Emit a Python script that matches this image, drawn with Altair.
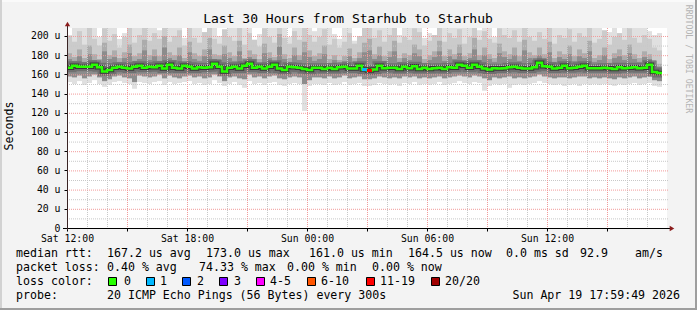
import altair as alt
import pandas as pd

# ---------------- data ----------------
# time steps of 15 minutes starting Sat 12:00 (hour 0); values in microseconds
median = [
    167, 169, 168, 168, 168, 170, 167.5, 163, 164.5, 167,
    168, 167, 166, 168, 169, 167, 168, 167.5, 169, 166,
    170, 167, 166, 169, 168, 166, 167.5, 167, 167.5, 171,
    168, 163, 167, 168, 166, 169, 171, 167, 168, 166,
    168, 170, 166, 164.5, 168, 167.5, 167, 165.5, 164.5, 167,
    167, 165.5, 167, 165.5, 167.5, 168, 166, 166, 169, 165,
    164, 165, 169, 166.5, 167, 167, 165.5, 168, 166.5, 168.5,
    165.5, 167, 165.5, 166.5, 167, 165.5, 167.5, 167, 170, 169,
    167, 170, 168, 166, 165, 166.5, 166, 166.5, 167.5, 168,
    167, 166, 166, 167.5, 172, 168.5, 168, 166, 167, 169,
    166.5, 167, 168, 169, 166.5, 166.5, 166.5, 167, 166.5, 165.5,
    167.5, 166.5, 167, 167.5, 166.5, 167, 170, 162.5, 161.5,
]
loss = [0] * 59 + [1, 15] + [0] * 58

smoke_max = [
    201, 212, 212, 212, 212, 212, 199, 212, 212, 212,
    197, 203, 212, 212, 212, 212, 212, 212, 206, 212,
    212, 212, 212, 198, 212, 212, 212, 204, 212, 212,
    200, 204, 212, 212, 212, 212, 212, 196, 202, 212,
    212, 212, 212, 212, 199, 212, 212, 212, 212, 205,
    212, 212, 212, 202, 197, 212, 212, 195, 199, 212,
    212, 212, 212, 212, 212, 212, 201, 212, 212, 212,
    212, 198, 203, 200, 212, 212, 212, 212, 212, 212,
    212, 212, 206, 212, 212, 199, 212, 212, 212, 212,
    212, 212, 212, 212, 212, 212, 202, 212, 212, 212,
    212, 212, 212, 212, 212, 212, 212, 197, 204, 212,
    200, 212, 212, 212, 212, 212, 205, 201, 203,
]
smoke_hi = [
    200, 194, 205, 191, 212, 197, 190, 208, 195, 202,
    188, 199, 210, 193, 201, 212, 195, 203, 197, 212,
    194, 200, 206, 190, 209, 198, 193, 204, 212, 197,
    192, 207, 199, 195, 212, 191, 203, 196, 189, 208,
    199, 193, 212, 198, 192, 205, 196, 210, 201, 194,
    199, 207, 191, 197, 188, 194, 203, 192, 200, 209,
    212, 198, 206, 194, 201, 212, 193, 199, 196, 208,
    204, 190, 195, 201, 210, 194, 203, 198, 207, 192,
    199, 212, 196, 205, 197, 193, 208, 201, 198, 206,
    194, 212, 199, 195, 204, 197, 209, 192, 201, 198,
    207, 194, 203, 199, 210, 193, 197, 206, 191, 199,
    203, 196, 208, 198, 193, 201, 197, 188, 185,
]
smoke_dk = [
    182, 178, 186, 177, 190, 181, 176, 193, 180, 185,
    177, 183, 191, 179, 182, 196, 180, 186, 179, 200,
    183, 180, 188, 177, 194, 182, 179, 186, 198, 181,
    180, 190, 183, 179, 195, 177, 185, 181, 176, 192,
    183, 178, 202, 181, 177, 188, 180, 194, 185, 179,
    182, 190, 176, 180, 175, 179, 187, 177, 183, 193,
    197, 181, 189, 179, 184, 195, 177, 182, 180, 191,
    186, 176, 180, 184, 195, 179, 186, 181, 191, 179,
    182, 198, 180, 188, 181, 177, 192, 184, 181, 188,
    179, 196, 183, 180, 188, 181, 194, 177, 184, 181,
    190, 179, 186, 182, 195, 177, 180, 188, 176, 182,
    186, 180, 191, 181, 177, 184, 181, 174, 171,
]
smoke_core = [
    176, 174, 179, 173, 181, 175, 172, 184, 176, 178,
    173, 177, 182, 174, 176, 185, 175, 179, 174, 188,
    177, 175, 180, 173, 183, 176, 174, 179, 186, 176,
    175, 181, 177, 174, 184, 173, 178, 176, 172, 182,
    177, 174, 189, 176, 173, 180, 175, 183, 178, 174,
    176, 181, 172, 175, 171, 174, 179, 173, 177, 183,
    185, 176, 180, 174, 178, 184, 173, 177, 175, 182,
    179, 172, 175, 178, 184, 174, 179, 176, 182, 174,
    177, 186, 175, 180, 176, 173, 182, 178, 176, 180,
    174, 185, 177, 175, 180, 176, 183, 173, 178, 176,
    181, 174, 179, 177, 184, 173, 175, 180, 172, 177,
    179, 175, 182, 176, 173, 178, 176, 170, 168,
]
smoke_lo = [
    158, 157, 159, 156, 158, 160, 157, 153, 155, 158,
    159, 157, 156, 152, 159, 158, 157, 158, 160, 156,
    159, 157, 156, 158, 159, 157, 158, 156, 157, 160,
    158, 153, 157, 158, 156, 155, 160, 157, 158, 156,
    158, 159, 156, 155, 157, 158, 157, 150, 154, 157,
    157, 156, 158, 156, 157, 159, 156, 157, 158, 155,
    155, 156, 158, 157, 156, 157, 156, 158, 157, 158,
    156, 157, 156, 157, 158, 156, 157, 158, 159, 158,
    157, 159, 158, 156, 154, 157, 156, 157, 158, 156,
    157, 156, 157, 158, 160, 158, 157, 156, 157, 157,
    156, 157, 158, 158, 156, 157, 156, 157, 156, 155,
    157, 156, 157, 158, 156, 157, 158, 154, 153,
]
smoke_min = [
    152, 150, 153, 149, 151, 154, 150, 147, 149, 152,
    153, 151, 150, 145, 152, 151, 150, 152, 153, 149,
    152, 150, 151, 152, 153, 150, 151, 149, 150, 154,
    151, 148, 150, 152, 149, 146, 153, 150, 151, 149,
    151, 152, 149, 148, 150, 151, 150, 122, 148, 150,
    150, 149, 151, 149, 150, 152, 149, 150, 151, 148,
    148, 149, 151, 150, 149, 150, 148, 151, 150, 152,
    149, 150, 149, 150, 152, 149, 150, 151, 153, 151,
    150, 152, 151, 143, 148, 150, 149, 150, 146, 149,
    150, 149, 150, 151, 153, 151, 150, 149, 150, 148,
    149, 150, 148, 150, 149, 150, 149, 150, 149, 148,
    150, 149, 150, 151, 149, 150, 151, 148, 147,
]

x_label_hours = [0, 6, 12, 18, 24]
x_labels = ["Sat 12:00", "Sat 18:00", "Sun 00:00", "Sun 06:00", "Sun 12:00"]
y_label_vals = [0, 20, 40, 60, 80, 100, 120, 140, 160, 180, 200]
y_labels = ["0", "20 u", "40 u", "60 u", "80 u", "100 u", "120 u", "140 u",
            "160 u", "180 u", "200 u"]

title = "Last 30 Hours from Starhub to Starhub"
legend_rows = [
    ["median rtt:", "167.2 us avg", "173.0 us max", "161.0 us min",
     "164.5 us now", "0.0 ms sd", "92.9", "am/s"],
    ["packet loss:", "0.40 % avg", "74.33 % max", "0.00 % min", "0.00 % now"],
    ["loss color:"],
    ["probe:", "20 ICMP Echo Pings (56 Bytes) every 300s"],
]
loss_names = ["0", "1", "2", "3", "4-5", "6-10", "11-19", "20/20"]
loss_upper = [0, 1, 2, 3, 5, 10, 19, 20]
loss_hex = ["#26ff00", "#00b8ff", "#0059ff", "#7e00ff", "#ff00ff",
            "#ff5500", "#ff0000", "#a00000"]
stamp = "Sun Apr 19 17:59:49 2026"

# ---------------- layout (pixels, relative to plot origin) ----------------
MONO = "DejaVu Sans Mono"
W, H = 600, 200
PL, PT = 67, 28
legend_x = [
    [16, 107, 206, 309, 408, 506, 580, 635],
    [16, 107, 199, 287, 372],
    [16],
    [16, 107],
]
legend_y = [254, 268, 282, 296]
swatch_x = [108, 146, 182, 219, 256, 307, 366, 431]
swatch_lbl_x = [124, 160, 197, 234, 270, 321, 380, 445]

STEP = 0.25
n = len(median)
hrs = [i * STEP for i in range(n)]


def loss_color(c):
    for up, col in zip(loss_upper, loss_hex):
        if c <= up:
            return col
    return loss_hex[-1]


df = pd.DataFrame(dict(
    h=hrs, h2=[h + STEP for h in hrs], med=median, smax=smoke_max,
    shi=smoke_hi, sdk=smoke_dk, score=smoke_core, slo=smoke_lo,
    smin=smoke_min, loss=loss,
))
df["lc"] = [loss_color(c) for c in loss]
line_df = pd.concat([df[["h", "med"]],
                     pd.DataFrame({"h": [n * STEP], "med": [median[-1]]})],
                    ignore_index=True)
loss_df = df[df["loss"] > 0]

xs = alt.Scale(domain=[0, 30], nice=False, zero=False)
ys = alt.Scale(domain=[0, 208.3], nice=False, zero=False)

x_expr = "datum.value % 6 == 0 ? " + str(x_labels) + "[datum.value / 6] : ''"
y_expr = str(y_labels) + "[datum.value / 20]"

x_axis = alt.Axis(values=list(range(0, 30, 3)), labelExpr=x_expr, title=None,
                  grid=False, domain=False, tickSize=3, tickColor="#000000",
                  labelFont=MONO, labelFontSize=9.8, labelColor="#000000",
                  labelPadding=2, labelFlush=False, labelOverlap=False,
                  labelBound=False)
y_axis = alt.Axis(values=y_label_vals, labelExpr=y_expr, title=None,
                  grid=False, domain=False, tickSize=3, tickColor="#000000",
                  labelFont=MONO, labelFontSize=9.8, labelColor="#000000",
                  labelPadding=4, labelFlush=False, labelOverlap=False)


def X(f):
    return alt.X(f, type="quantitative", scale=xs, axis=x_axis)


def Y(f):
    return alt.Y(f, type="quantitative", scale=ys, axis=y_axis)


base = alt.Chart(df)
smoke_light = base.mark_rect(color="#e0e0e0", clip=True).encode(
    x=X("h"), x2="h2", y=Y("smin"), y2="smax")
smoke_mid = base.mark_rect(color="#cbcbcb", clip=True).encode(
    x=X("h"), x2="h2", y=Y("slo"), y2="shi")
smoke_dark = base.mark_rect(color="#acacac", clip=True).encode(
    x=X("h"), x2="h2", y=Y("slo"), y2="sdk")
smoke_cr = base.mark_rect(color="#8c8c8c", clip=True).encode(
    x=X("h"), x2="h2", y=Y("slo"), y2="score")
core_wide = alt.Chart(line_df).mark_line(
    interpolate="step-after", color="#5e5e5e", strokeWidth=9, opacity=0.6,
    clip=True).encode(x=X("h"), y=Y("med"))
core = alt.Chart(line_df).mark_line(
    interpolate="step-after", color="#2a2a2a", strokeWidth=4.5, opacity=0.8,
    clip=True).encode(x=X("h"), y=Y("med"))

grid_minor_x = [h for h in range(1, 30) if h % 3 != 0]
grid_major_x = [h for h in range(3, 30, 3)]
grid_minor_y = list(range(10, 201, 20))
grid_major_y = list(range(20, 201, 20))

gx_minor = alt.Chart(pd.DataFrame({"g": grid_minor_x})).mark_rule(
    color="#c8c8c8", strokeDash=[1, 1], strokeWidth=1, xOffset=0.5).encode(
    x=X("g"), y=alt.value(0), y2=alt.value(H))
gx_major = alt.Chart(pd.DataFrame({"g": grid_major_x})).mark_rule(
    color="#f29a9a", strokeDash=[1, 1], strokeWidth=1, xOffset=0.5).encode(
    x=X("g"), y=alt.value(0), y2=alt.value(H))
gy_minor = alt.Chart(pd.DataFrame({"g": grid_minor_y})).mark_rule(
    color="#c8c8c8", strokeDash=[1, 1], strokeWidth=1, yOffset=0.5).encode(
    y=Y("g"), x=alt.value(0), x2=alt.value(W + 1))
gy_major = alt.Chart(pd.DataFrame({"g": grid_major_y})).mark_rule(
    color="#f29a9a", strokeDash=[1, 1], strokeWidth=1, yOffset=0.5).encode(
    y=Y("g"), x=alt.value(0), x2=alt.value(W + 1))

med_line = alt.Chart(line_df).mark_line(
    interpolate="step-after", color=loss_hex[0], strokeWidth=2.5,
    clip=True).encode(x=X("h"), y=Y("med"))
loss_seg = alt.Chart(loss_df).mark_rule(strokeWidth=3, clip=True).encode(
    x=X("h"), x2="h2", y=Y("med"), color=alt.Color("lc:N", scale=None))

one = alt.Data(values=[{}])
axis_col = "#3a2424"
x_dom = alt.Chart(one).mark_rule(color="#000000", strokeWidth=1).encode(
    x=alt.value(-4), x2=alt.value(W + 4), y=alt.value(H + 0.5))
y_dom = alt.Chart(one).mark_rule(color=axis_col, strokeWidth=1).encode(
    x=alt.value(0.5), y=alt.value(-4), y2=alt.value(H + 2))
arrow_up = alt.Chart(one).mark_point(
    shape="triangle-up", filled=True, size=28, color="#8b1c1c",
    opacity=1).encode(x=alt.value(0.5), y=alt.value(-4))
arrow_right = alt.Chart(one).mark_point(
    shape="triangle-right", filled=True, size=28, color="#8b1c1c",
    opacity=1).encode(x=alt.value(W + 5), y=alt.value(H + 0.5))


def txt(s, ax, ay, size=11.6, align="left", angle=0, color="#000000"):
    return alt.Chart(one).mark_text(
        text=s, font=MONO, fontSize=size, align=align, baseline="middle",
        angle=angle, color=color).encode(
        x=alt.value(ax - PL), y=alt.value(ay - PT))


def box(x0, y0, x1, y1, fill, stroke=None):
    kw = dict(fill=fill)
    if stroke:
        kw.update(stroke=stroke, strokeWidth=1)
    return alt.Chart(one).mark_rect(**kw).encode(
        x=alt.value(x0 - PL), x2=alt.value(x1 - PL),
        y=alt.value(y0 - PT), y2=alt.value(y1 - PT))


extras = [
    txt(title, 348, 19, size=13, align="center"),
    txt("Seconds", 10, 126, size=11.6, align="center", angle=270),
    txt("RRDTOOL / TOBI OETIKER", 688, 59, size=8.2, align="center",
        angle=90, color="#b4b4b4"),
]
for row, xsx, yy in zip(legend_rows, legend_x, legend_y):
    for s, xx in zip(row, xsx):
        extras.append(txt(s, xx, yy))
for name, col, bx, lx in zip(loss_names, loss_hex, swatch_x, swatch_lbl_x):
    extras.append(box(bx + 0.5, 277.5, bx + 8.5, 285.5, col, "#000000"))
    extras.append(txt(name, lx, 282))
extras.append(txt(stamp, 680, 296, align="right"))

frame = [
    box(0, 0, 697, 2, "#fafafa"),
    box(0, 0, 2, 310, "#d2d2d2"),
    box(695, 0, 697, 310, "#9e9e9e"),
    box(0, 308, 697, 310, "#9e9e9e"),
]

chart = alt.layer(
    smoke_light, smoke_mid, smoke_dark, smoke_cr, core_wide, core,
    gx_minor, gy_minor, gx_major, gy_major,
    med_line, loss_seg, x_dom, y_dom, arrow_up, arrow_right,
    *extras, *frame,
).properties(
    width=W, height=H,
    padding={"left": PL, "top": PT, "right": 697 - PL - W,
             "bottom": 310 - PT - H},
    autosize=alt.AutoSizeParams(type="none"),
    background="#f3f3f3",
).configure_view(fill="#ffffff", stroke=None)

chart.save("out.html", embed_options={"renderer": "svg", "actions": False})
